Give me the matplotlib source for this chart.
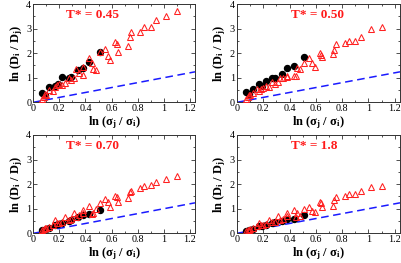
import matplotlib
matplotlib.use("Agg")
import matplotlib.pyplot as plt
from matplotlib.ticker import MultipleLocator
import numpy as np

plt.rcParams['font.family'] = ['Liberation Serif', 'DejaVu Serif']
plt.rcParams['mathtext.fontset'] = 'custom'
plt.rcParams['mathtext.rm'] = 'Liberation Serif:bold'
plt.rcParams['mathtext.it'] = 'Liberation Serif:bold'
plt.rcParams['mathtext.bf'] = 'Liberation Serif:bold'

titles = ["T* = 0.45", "T* = 0.50", "T* = 0.70", "T* = 1.8"]

circ_x = [0.07, 0.09, 0.12, 0.17, 0.19, 0.22, 0.27, 0.29, 0.34, 0.38, 0.43, 0.51]
circ_y1 = [0.39, 0.30, 0.61, 0.66, 0.73, 1.04, 0.97, 1.01, 1.31, 1.41, 1.64, 2.03]
circ_y2 = [0.43, 0.35, 0.53, 0.74, 0.66, 0.87, 1.00, 0.98, 1.15, 1.38, 1.48, 1.85]
circ_y3 = [0.12, 0.15, 0.22, 0.33, 0.36, 0.42, 0.52, 0.56, 0.65, 0.73, 0.78, 0.93]
circ_y4 = [0.10, 0.12, 0.18, 0.28, 0.30, 0.35, 0.42, 0.45, 0.50, 0.58, 0.60, 0.75]

tri_x = [0.07, 0.08, 0.09, 0.10, 0.12, 0.15, 0.17, 0.18, 0.20, 0.22, 0.24, 0.27, 0.29,
         0.31, 0.33, 0.35, 0.38, 0.38, 0.43, 0.45, 0.46, 0.48, 0.51, 0.55, 0.57, 0.59,
         0.63, 0.64, 0.65, 0.73, 0.74, 0.75, 0.82, 0.85, 0.90, 0.94, 1.02, 1.10]
tri_y1 = [0.15, 0.23, 0.35, 0.30, 0.50, 0.45, 0.61, 0.72, 0.75, 0.70, 0.80, 1.00, 0.91,
          1.00, 1.34, 1.20, 1.45, 1.11, 1.79, 1.61, 1.34, 1.31, 2.06, 2.16, 1.88, 1.72,
          2.44, 2.36, 2.06, 2.29, 2.67, 2.85, 2.85, 3.07, 3.05, 3.35, 3.52, 3.72]
tri_y2 = [0.12, 0.20, 0.28, 0.30, 0.39, 0.53, 0.45, 0.53, 0.60, 0.66, 0.61, 0.84, 0.75,
          0.84, 0.98, 1.00, 1.07, 1.04, 1.07, 1.07, 1.38, 1.34, 1.61, 1.79, 1.61, 1.45,
          1.99, 1.92, 1.85, 1.95, 2.13, 2.36, 2.42, 2.50, 2.50, 2.67, 2.97, 3.05]
tri_y3 = [0.13, 0.16, 0.20, 0.22, 0.27, 0.33, 0.54, 0.40, 0.42, 0.45, 0.65, 0.55, 0.60,
          0.84, 0.68, 0.75, 0.84, 0.95, 1.12, 0.80, 0.84, 0.98, 1.22, 1.38, 1.28, 1.08,
          1.52, 1.46, 1.28, 1.42, 1.68, 1.73, 1.83, 1.92, 1.96, 2.07, 2.21, 2.33]
tri_y4 = [0.10, 0.12, 0.15, 0.18, 0.22, 0.28, 0.43, 0.33, 0.35, 0.38, 0.54, 0.45, 0.48,
          0.70, 0.54, 0.60, 0.70, 0.84, 0.95, 0.65, 0.84, 0.70, 0.98, 1.08, 0.92, 0.87,
          1.28, 1.24, 1.06, 1.11, 1.35, 1.46, 1.52, 1.60, 1.60, 1.72, 1.87, 1.94]

circ_ys = [circ_y1, circ_y2, circ_y3, circ_y4]
tri_ys = [tri_y1, tri_y2, tri_y3, tri_y4]
line_x = [0.0, 1.24]

fig = plt.figure(figsize=(4.02, 2.63), dpi=100)
W, H = 402, 263
boxes = [(33.3, 4, 195, 102.3), (237, 4, 400, 102.3),
         (33.3, 135, 195, 233.3), (237, 135, 400, 233.3)]
title_x = [0.20, 0.33, 0.20, 0.33]

for k in range(4):
    l, t, r, b = boxes[k]
    ax = fig.add_axes([l / W, 1 - b / H, (r - l) / W, (b - t) / H])
    ax.plot(line_x, line_x, color='#1a1aff', lw=1.1, ls=(0, (5, 3)), zorder=1)
    ax.plot(circ_x, circ_ys[k], 'o', color='black', ms=4.3, zorder=2)
    ax.plot(tri_x, tri_ys[k], '^', mfc='none', mec='#ff2020', mew=0.75, ms=4.8, zorder=3)
    ax.set_xlim(0, 1.24)
    ax.set_ylim(0, 4)
    ax.xaxis.set_minor_locator(MultipleLocator(0.1))
    ax.yaxis.set_minor_locator(MultipleLocator(0.5))
    ax.set_xticks([0, 0.2, 0.4, 0.6, 0.8, 1.0, 1.2])
    ax.set_xticklabels(['0', '0.2', '0.4', '0.6', '0.8', '1', '1.2'])
    ax.set_yticks([0, 1, 2, 3, 4])
    ax.set_yticklabels(['0', '1', '2', '3', '4'])
    ax.tick_params(which='both', direction='in', top=True, right=True,
                   labelsize=7.3, pad=1.5, width=0.6, color='#333333')
    ax.tick_params(which='major', length=3)
    ax.tick_params(which='minor', length=1.5)
    for s in ax.spines.values():
        s.set_linewidth(0.7)
        s.set_color('#333333')
    ax.set_xlabel('ln (σ$_\\mathrm{j}$ / σ$_\\mathrm{i}$)', fontsize=9,
                  fontweight='bold', labelpad=0.5)
    ax.set_ylabel('ln (D$_\\mathrm{i}$ / D$_\\mathrm{j}$)', fontsize=9,
                  fontweight='bold', labelpad=1)
    ax.text(title_x[k], 0.885, titles[k], transform=ax.transAxes, color='#ff1a1a',
            fontsize=9.5, fontweight='bold', ha='left', va='center')

fig.savefig('out.png', dpi=100)
